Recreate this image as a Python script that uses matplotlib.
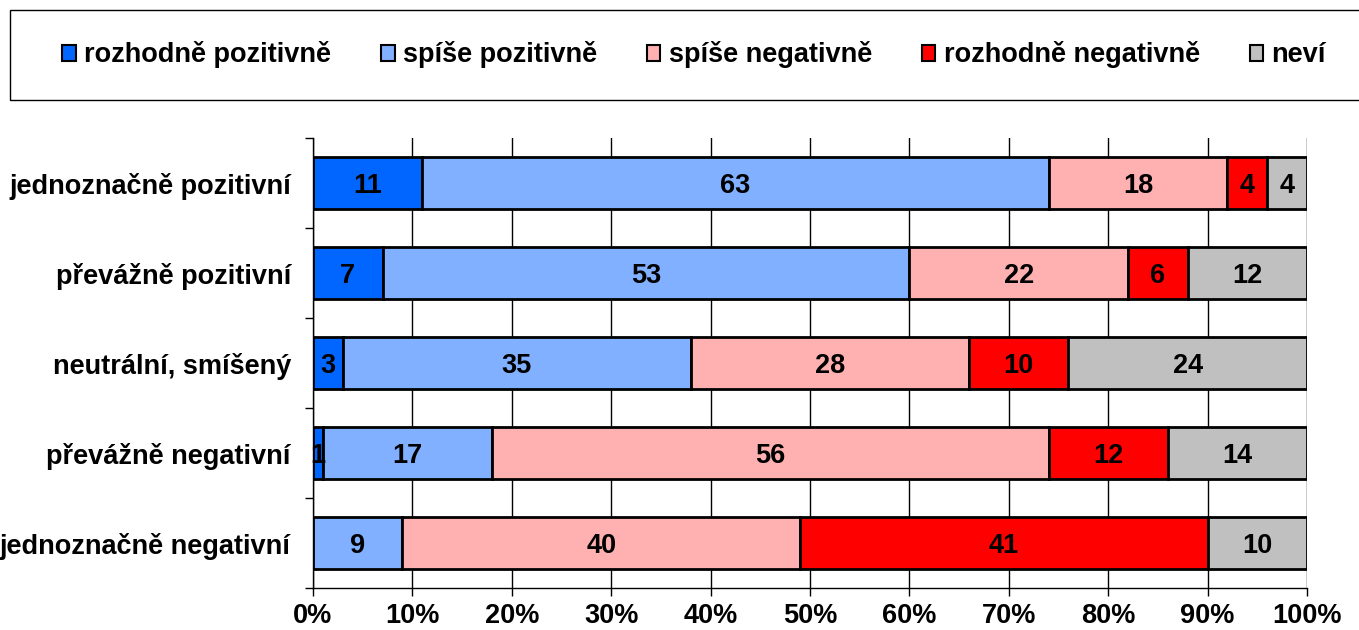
import numpy as np
import matplotlib.pyplot as plt
from matplotlib.patches import Rectangle

plt.rcParams['font.family'] = ['Liberation Sans', 'DejaVu Sans']
plt.rcParams['font.weight'] = 'bold'

categories = ['jednoznačně pozitivní', 'převážně pozitivní', 'neutrální, smíšený',
              'převážně negativní', 'jednoznačně negativní']
series = ['rozhodně pozitivně', 'spíše pozitivně', 'spíše negativně',
          'rozhodně negativně', 'neví']
rozhodne_poz = [11, 7, 3, 1, 0]
spise_poz = [63, 53, 35, 17, 9]
spise_neg = [18, 22, 28, 56, 40]
rozhodne_neg = [4, 6, 10, 12, 41]
nevi = [4, 12, 24, 14, 10]
colors = ['#0066FF', '#80B0FF', '#FFB0B0', '#FF0000', '#C0C0C0']

values = [rozhodne_poz, spise_poz, spise_neg, rozhodne_neg, nevi]
fs = 19.5

fig = plt.figure(figsize=(13.59, 6.30), dpi=100)
ax = fig.add_axes([313 / 1359, 42 / 630, 994 / 1359, 450 / 630])

y = np.arange(len(categories))
left = np.zeros(len(categories))
handles = []
for name, vals, c in zip(series, values, colors):
    vals = np.array(vals, dtype=float)
    bars = ax.barh(y, vals, left=left, height=0.57, color=c,
                   edgecolor='black', linewidth=2, label=name, zorder=3)
    handles.append(bars)
    for yi, l, v in zip(y, left, vals):
        if v > 0:
            ax.text(l + v / 2, yi, f'{int(v)}', ha='center', va='center_baseline',
                    fontsize=fs, fontweight='bold', zorder=4)
    left += vals

ax.set_xlim(0, 100)
ax.set_ylim(len(categories) - 0.5, -0.5)
ax.set_xticks(np.arange(0, 101, 10))
ax.set_xticklabels([f'{v}%' for v in range(0, 101, 10)], fontsize=fs, fontweight='bold')
ax.xaxis.grid(True, color='black', linewidth=1, zorder=0)
ax.set_yticks(y)
ax.set_yticklabels(categories, fontsize=fs, fontweight='bold')
ax.set_yticks(np.arange(-0.5, len(categories), 1), minor=True)
ax.tick_params(axis='y', which='major', length=0, pad=16)
ax.tick_params(axis='y', which='minor', length=6, width=1, color='black')
ax.tick_params(axis='x', length=6, width=1, pad=5)
for s in ['top', 'right']:
    ax.spines[s].set_visible(False)
for s in ['left', 'bottom']:
    ax.spines[s].set_linewidth(1)
    ax.spines[s].set_color('black')

fig.patches.append(Rectangle((10 / 1359, 530 / 630), 1.0, 90 / 630,
                             transform=fig.transFigure, fill=False,
                             edgecolor='black', linewidth=1))
leg = fig.legend(handles=handles, labels=series, loc='center',
                 bbox_to_anchor=(694 / 1359, 1 - 55 / 630), ncol=5, frameon=False,
                 fontsize=fs, handlelength=0.5, handleheight=0.5,
                 handletextpad=0.3, columnspacing=1.85)
for h in leg.legend_handles:
    h.set_linewidth(1.5)

fig.savefig('out.png', dpi=100)
